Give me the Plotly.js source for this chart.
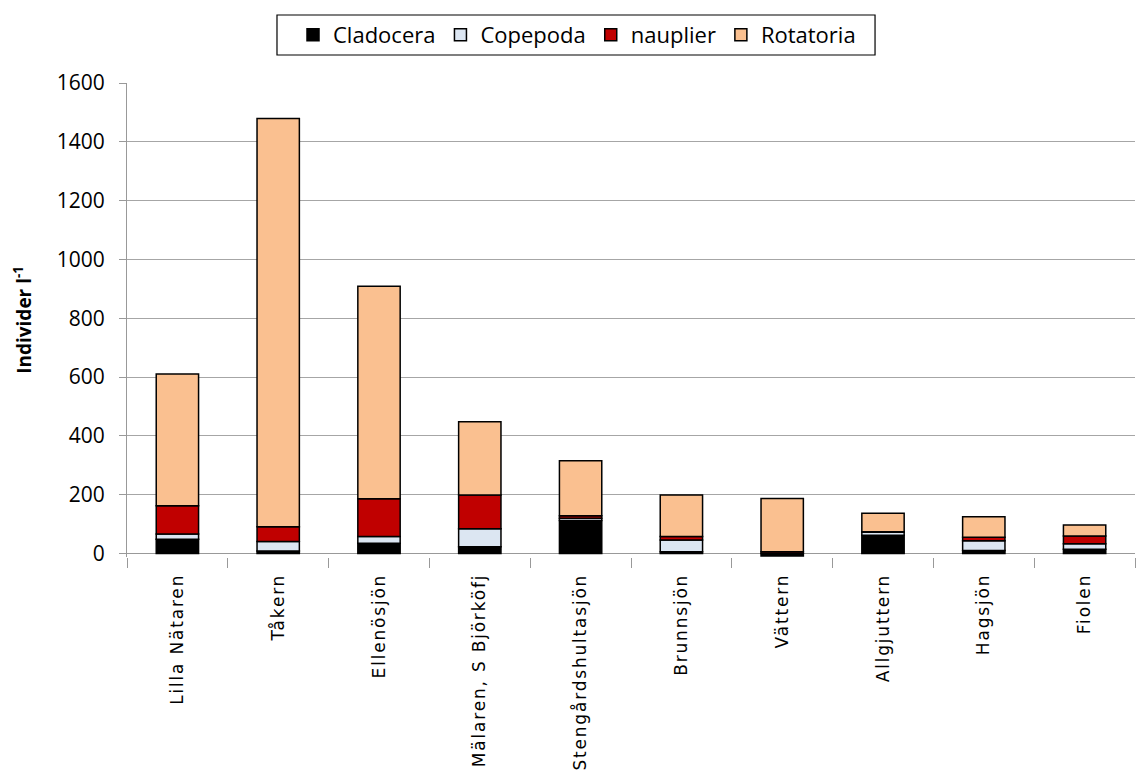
<!DOCTYPE html>
<html>
<head>
<meta charset="utf-8">
<script src="https://cdn.plot.ly/plotly-3.0.1.min.js"></script>
<style>
html,body{margin:0;padding:0;background:#fff;}
#chart{width:1146px;height:771px;}
#chart .xtick text{letter-spacing:1.8px !important;}
</style>
</head>
<body>
<div id="chart"></div>
<script>
const categories = ["Lilla Nätaren", "Tåkern", "Ellenösjön", "Mälaren, S Björköfj", "Stengårdshultasjön", "Brunnsjön", "Vättern", "Allgjuttern", "Hagsjön", "Fiolen"];
const cladocera = [48, 8, 35, 23, 112, 6, -9, 62, 10, 14];
const copepoda  = [18, 33, 23, 61, 8, 40, 0, 10, 33, 19];
const nauplier  = [96, 50, 128, 115, 8, 12, 6, 2, 12, 26];
const rotatoria = [448, 1388, 723, 249, 187, 141, 181, 63, 70, 38];
const yTicks = [0, 200, 400, 600, 800, 1000, 1200, 1400, 1600];

const font = "Open Sans, Liberation Sans, sans-serif";
function tr(name, vals, color) {
  return {type: "bar", name: name, x: categories, y: vals,
    marker: {color: color, line: {color: "#000000", width: 1.5}}, hoverinfo: "x+y"};
}
const data = [
  tr("Cladocera", cladocera, "#000000"),
  tr("Copepoda", copepoda, "#dce6f2"),
  tr("nauplier", nauplier, "#c00000"),
  tr("Rotatoria", rotatoria, "#fac090")
];
const layout = {
  width: 1146, height: 771,
  margin: {l: 127, r: 11, t: 83, b: 214},
  paper_bgcolor: "#ffffff", plot_bgcolor: "#ffffff",
  barmode: "relative", bargap: 0.58,
  font: {family: font, size: 16, color: "#000000"},
  showlegend: true,
  legend: {orientation: "h", xref: "container", yref: "container", x: 0.5035, xanchor: "center", y: 0.9546, yanchor: "middle",
    borderwidth: 0, bgcolor: "rgba(0,0,0,0)", font: {family: font, size: 22}, traceorder: "normal", itemwidth: 30},
  shapes: [{type: "rect", xref: "paper", yref: "paper", x0: 0.1488, x1: 0.7421, y0: 1.0591, y1: 1.1435,
    line: {color: "#000000", width: 1.2}, fillcolor: "rgba(0,0,0,0)", layer: "above"}],
  xaxis: {type: "category", showline: false, ticks: "outside", tickson: "boundaries", ticklen: 10, tickcolor: "#999999",
    tickmode: "array", tickvals: categories, ticktext: categories.map(function (c) { return c + "\u00a0\u2009"; }),
    tickangle: -90, tickfont: {family: "DejaVu Sans, sans-serif", size: 17}, showgrid: false, zeroline: false},
  yaxis: {range: [-12, 1600], tickvals: yTicks, ticktext: yTicks.map(String), showline: true, linecolor: "#999999", linewidth: 1,
    ticks: "outside", ticklen: 7, tickcolor: "#999999", ticklabelstandoff: 10, showgrid: true, gridcolor: "#a6a6a6", gridwidth: 1,
    zeroline: true, zerolinecolor: "#999999", zerolinewidth: 1.5, tickfont: {family: font, size: 21},
    title: {text: "<b>Individer l<sup>-1</sup></b>", font: {family: font, size: 19}, standoff: 20}}
};
Plotly.newPlot("chart", data, layout, {displayModeBar: false, staticPlot: true});
</script>
</body>
</html>
